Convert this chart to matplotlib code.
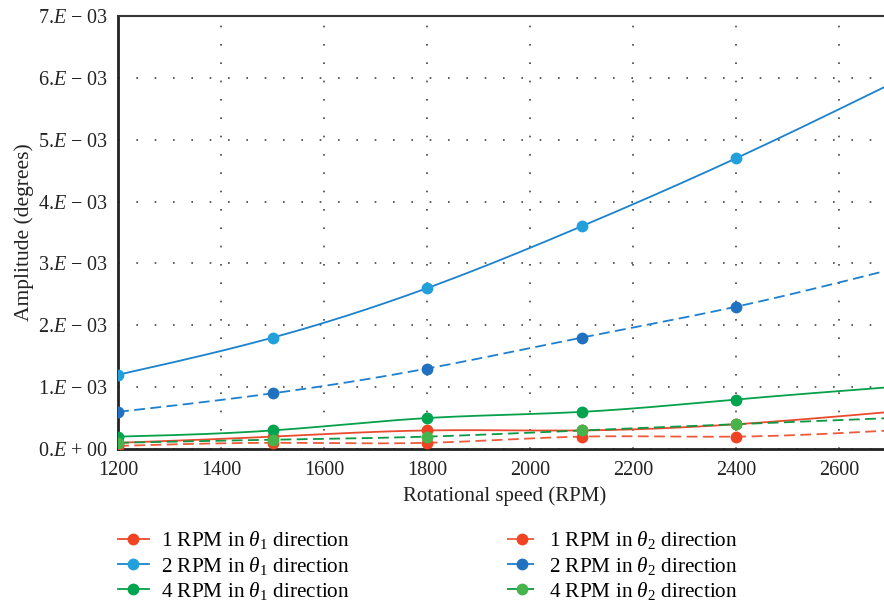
import numpy as np
import matplotlib
matplotlib.use("Agg")
import matplotlib.pyplot as plt

plt.rcParams['font.family'] = ['Liberation Serif', 'DejaVu Serif']
plt.rcParams['mathtext.fontset'] = 'custom'
plt.rcParams['mathtext.rm'] = 'Liberation Serif'
plt.rcParams['mathtext.it'] = 'Liberation Serif:italic'
plt.rcParams['mathtext.bf'] = 'Liberation Serif:bold'

speed = [1200, 1500, 1800, 2100, 2400, 2700]
rpm1_t1 = [0.10e-3, 0.20e-3, 0.30e-3, 0.30e-3, 0.40e-3, 0.60e-3]
rpm2_t1 = [1.20e-3, 1.80e-3, 2.60e-3, 3.60e-3, 4.70e-3, 5.90e-3]
rpm4_t1 = [0.20e-3, 0.30e-3, 0.50e-3, 0.60e-3, 0.80e-3, 1.00e-3]
rpm1_t2 = [0.05e-3, 0.10e-3, 0.10e-3, 0.20e-3, 0.20e-3, 0.30e-3]
rpm2_t2 = [0.60e-3, 0.90e-3, 1.30e-3, 1.80e-3, 2.30e-3, 2.90e-3]
rpm4_t2 = [0.10e-3, 0.15e-3, 0.20e-3, 0.30e-3, 0.40e-3, 0.50e-3]

labels = [r'1 RPM in $\theta_1$ direction', r'2 RPM in $\theta_1$ direction',
          r'4 RPM in $\theta_1$ direction', r'1 RPM in $\theta_2$ direction',
          r'2 RPM in $\theta_2$ direction', r'4 RPM in $\theta_2$ direction']
yticks = [0, 1e-3, 2e-3, 3e-3, 4e-3, 5e-3, 6e-3, 7e-3]
ytick_labels = ['0.$E$ + 00', '1.$E$ \u2212 03', '2.$E$ \u2212 03', '3.$E$ \u2212 03',
                '4.$E$ \u2212 03', '5.$E$ \u2212 03', '6.$E$ \u2212 03', '7.$E$ \u2212 03']
xticks = [1200, 1400, 1600, 1800, 2000, 2200, 2400, 2600]


def smooth(x, y, n=200):
    """Natural cubic spline through the data points (for drawing only)."""
    x = np.asarray(x, float); y = np.asarray(y, float)
    m = len(x)
    h = np.diff(x)
    A = np.zeros((m, m)); b = np.zeros(m)
    A[0, 0] = 1; A[-1, -1] = 1
    for i in range(1, m - 1):
        A[i, i - 1] = h[i - 1]; A[i, i] = 2 * (h[i - 1] + h[i]); A[i, i + 1] = h[i]
        b[i] = 6 * ((y[i + 1] - y[i]) / h[i] - (y[i] - y[i - 1]) / h[i - 1])
    M = np.linalg.solve(A, b)
    xs = np.linspace(x[0], x[-1], n)
    idx = np.clip(np.searchsorted(x, xs) - 1, 0, m - 2)
    x0 = x[idx]; x1 = x[idx + 1]; hh = x1 - x0
    t0 = x1 - xs; t1 = xs - x0
    ys = (M[idx] * t0 ** 3 / (6 * hh) + M[idx + 1] * t1 ** 3 / (6 * hh)
          + (y[idx] / hh - M[idx] * hh / 6) * t0 + (y[idx + 1] / hh - M[idx + 1] * hh / 6) * t1)
    return xs, ys


fig = plt.figure(figsize=(8.84, 6.03), dpi=100)
ax = fig.add_axes([0.1335, 0.2554, 0.874, 0.7181])

series = [
    (rpm1_t1, '#ea4a2e', '#ef4323', '-'),
    (rpm2_t1, '#1a82cf', '#22a0dc', '-'),
    (rpm4_t1, '#05a04a', '#00a34e', '-'),
    (rpm1_t2, '#ee5a3c', '#ef4323', (0, (6, 3))),
    (rpm2_t2, '#1d7fcf', '#2071bf', (0, (6, 3))),
    (rpm4_t2, '#0a9a45', '#45b54b', (0, (6, 3))),
]
handles = []
for (vals, lc, mc, ls), lab in zip(series, labels):
    xs, ys = smooth(speed, vals)
    ax.plot(xs, ys, color=lc, linestyle=ls, linewidth=1.3, zorder=3, clip_on=True)
    ax.plot(speed, vals, linestyle='none', marker='o', markersize=8.5,
            color=mc, markeredgewidth=0, zorder=4, clip_on=True)
    h, = ax.plot([], [], color=lc, linestyle=ls, linewidth=1.3, marker='o',
                 markersize=8.5, markerfacecolor=mc, markeredgewidth=0, label=lab)
    handles.append(h)

ax.set_xlim(1200, 2700)
ax.set_ylim(0, 7e-3)
ax.set_xticks(xticks)
ax.set_xticklabels([str(v) for v in xticks])
ax.set_yticks(yticks)
ax.set_yticklabels(ytick_labels)
ax.tick_params(length=0, labelsize=14.5, colors='#222222')
ax.tick_params(axis='x', pad=9)
ax.tick_params(axis='y', pad=7)
ax.grid(True, linestyle=(0, (1, 10)), color='#444444', linewidth=1.2)
ax.set_axisbelow(True)
for s in ['left', 'bottom']:
    ax.spines[s].set_linewidth(2.0)
    ax.spines[s].set_color('#222222')
ax.spines['top'].set_linewidth(1.5)
ax.spines['top'].set_color('#333333')
ax.spines['right'].set_visible(False)

ax.set_xlabel('Rotational speed (RPM)', fontsize=15, color='#222222', labelpad=4)
ax.set_ylabel('Amplitude (degrees)', fontsize=15.5, color='#222222', labelpad=3)

fig.legend(handles=handles, loc='upper left', bbox_to_anchor=(0.1335, 0.122),
           ncol=2, frameon=False, fontsize=15.3, handlelength=1.45,
           handletextpad=0.55, columnspacing=7.4, labelspacing=0.15,
           borderaxespad=0, borderpad=0)

fig.savefig('out.png', dpi=100)
